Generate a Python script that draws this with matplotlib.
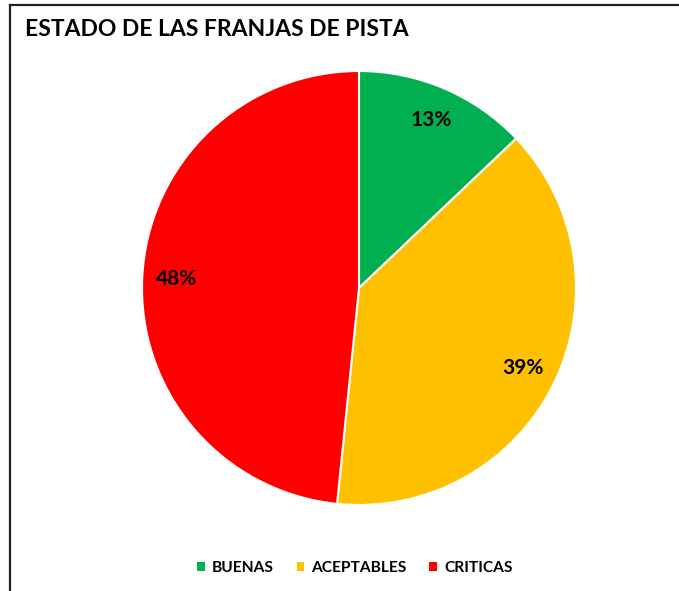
import matplotlib

matplotlib.use("Agg")

import matplotlib.pyplot as plt
from matplotlib.lines import Line2D
from matplotlib.patches import Patch

categories = ["BUENAS", "ACEPTABLES", "CRITICAS"]
counts = [4, 12, 15]
colors = ["#00B050", "#FFC000", "#FF0000"]
title = "ESTADO DE LAS FRANJAS DE PISTA"

W, H = 679, 591
plt.rcParams["font.family"] = ["Lato", "DejaVu Sans"]

fig = plt.figure(figsize=(W / 100, H / 100), dpi=100)

# pie axes, center (359, 288) px, radius 217 px
cx, cy, r = 359, 288, 217
ax = fig.add_axes([(cx - r) / W, 1 - (cy + r) / H, 2 * r / W, 2 * r / H])
wedges, texts, autotexts = ax.pie(
    counts,
    colors=colors,
    startangle=90,
    counterclock=False,
    autopct="%.0f%%",
    pctdistance=0.84,
    wedgeprops=dict(edgecolor="white", linewidth=1.5),
    textprops=dict(fontsize=15, fontweight="bold", color="black"),
)
ax.set_xlim(-1, 1)
ax.set_ylim(-1, 1)
ax.set_aspect("equal")
ax.axis("off")

fig.text(25 / W, 1 - 30 / H, title, fontsize=16.5, fontweight="bold",
         ha="left", va="center")

handles = [Patch(facecolor=c, edgecolor="none") for c in colors]
fig.legend(handles, categories, loc="center", bbox_to_anchor=(355 / W, 1 - 568 / H),
           ncol=3, frameon=False, handlelength=0.5, handleheight=0.5,
           handletextpad=0.45, columnspacing=1.45, prop=dict(weight="bold", size=11.2))

# chart frame (left and top edges visible)
fig.add_artist(Line2D([10 / W, 10 / W], [0, 1 - 5 / H], color="#222222", lw=1.6))
fig.add_artist(Line2D([10 / W, 1], [1 - 5 / H, 1 - 5 / H], color="#222222", lw=1.6))

fig.savefig("out.png", dpi=100)
